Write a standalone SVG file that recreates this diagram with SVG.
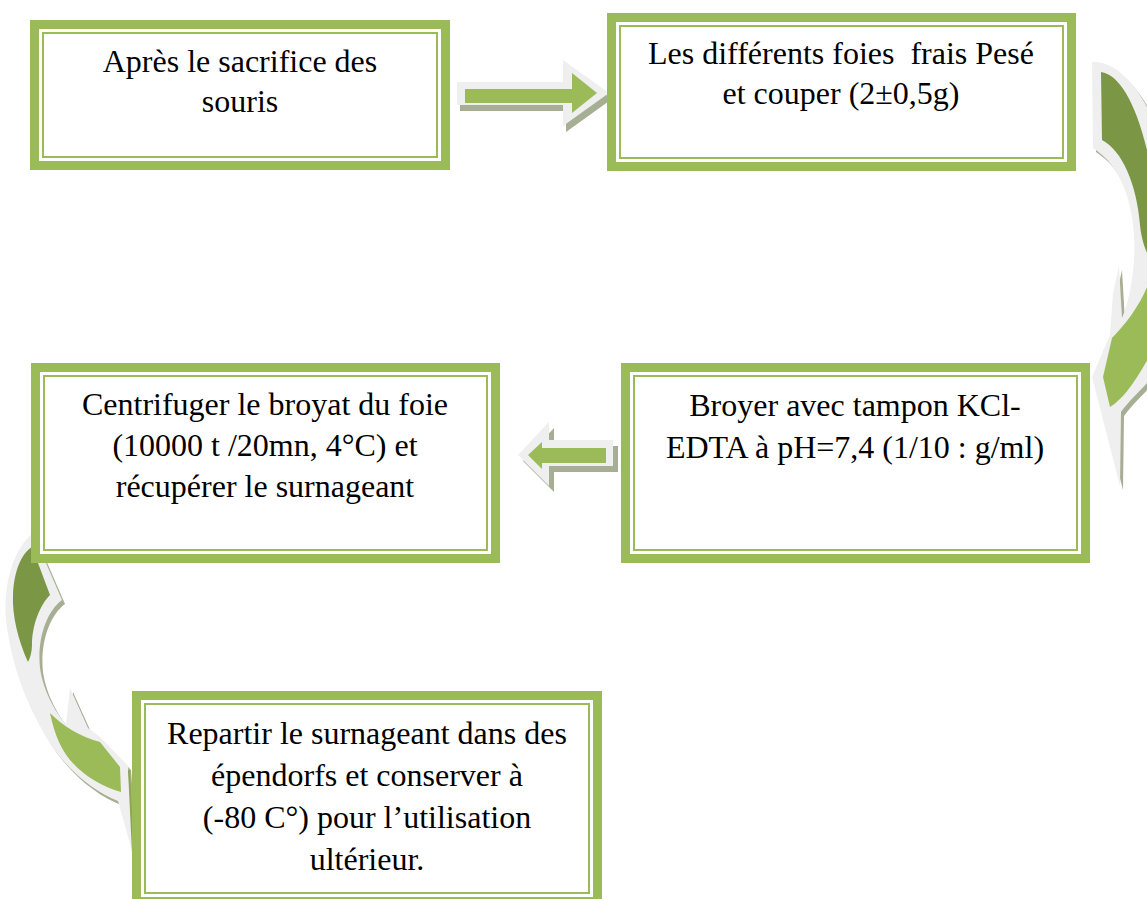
<svg xmlns="http://www.w3.org/2000/svg" width="1147" height="899" viewBox="0 0 1147 899">
<style>
.outer{fill:#9BBB59}
.gap{fill:#FFFFFF}
.inner{fill:none;stroke:#9BBB59;stroke-width:2}
.t{font-family:"Liberation Serif","Times New Roman",serif;font-size:32px;fill:#000;text-anchor:middle}
.sh{fill:#A6AF93}
.ol{fill:#EFEFEF}
.g{fill:#9BBB59}
.dg{fill:#7B9645}
</style>
<rect width="1147" height="899" fill="#FFFFFF"/>
<g id="connectors">
  <g id="arrow-1-2">
    <polygon class="sh" transform="translate(3,6)" points="457,82 563,82 563,60 609,93 563,126 563,105 457,105"/>
    <polygon class="ol" points="457,82 563,82 563,60 609,93 563,126 563,105 457,105"/>
    <polygon class="g" points="465,89 572,89 572,73 597,93 572,113 572,103 465,103"/>
  </g>
  <g id="arrow-4-3">
    <polygon class="sh" transform="translate(5,6)" points="518,455 549,422 549,440 613,440 613,466 549,466 549,486"/>
    <polygon class="ol" points="518,455 549,422 549,440 613,440 613,466 549,466 549,486"/>
    <polygon class="g" points="528,455 542,442 542,448 606,448 606,463 542,463 542,469"/>
  </g>
  <g id="arrow-2-4">
    <path class="sh" transform="translate(3,4)" d="M1092,62 C1125,60 1160,110 1168,180 L1168,370 L1147,383 C1138,393 1128,402 1121,412 L1120,486 L1092,377 L1110,335 L1113,293 L1119,266 L1122,318 C1130,300 1136,265 1134,235 C1132,200 1120,165 1093,148 Z"/>
    <path class="ol" d="M1092,62 C1125,60 1160,110 1168,180 L1168,370 L1147,383 C1138,393 1128,402 1121,412 L1120,486 L1092,377 L1110,335 L1113,293 L1119,266 L1122,318 C1130,300 1136,265 1134,235 C1132,200 1120,165 1093,148 Z"/>
    <path class="dg" d="M1101,72 C1118,74 1135,100 1147,150 L1160,200 L1152,262 C1144,250 1141,235 1140,225 C1137,185 1122,150 1102,140 Z"/>
    <path class="g" d="M1158,272 L1147,287 C1140,305 1125,325 1112,338 L1103,377 L1110,407 C1125,398 1140,375 1158,340 Z"/>
  </g>
  <g id="arrow-3-5">
    <path class="sh" transform="translate(3,4)" d="M33,533 L62,600 C46,612 37,640 40,668 C43,690 55,712 66,724 L70,688 L88,728 L100,737 L128,766 L135,862 L118,801 C95,792 65,770 45,735 C28,705 12,670 6,620 C3,580 15,548 33,533 Z"/>
    <path class="ol" d="M33,533 L62,600 C46,612 37,640 40,668 C43,690 55,712 66,724 L70,688 L88,728 L100,737 L128,766 L135,862 L118,801 C95,792 65,770 45,735 C28,705 12,670 6,620 C3,580 15,548 33,533 Z"/>
    <path class="dg" d="M32,547 L50,595 C40,605 32,625 32,645 C32,652 30,658 28,662 C18,640 12,615 13,595 C14,570 22,553 32,547 Z"/>
    <path class="g" d="M50,713 C62,725 80,737 100,742 L120,767 L121,792 C103,787 85,777 70,760 C62,750 55,737 50,713 Z"/>
    <line x1="129" y1="770" x2="133" y2="853" stroke="#8CA655" stroke-width="2"/>
  </g>
</g>
<g id="node-1">
  <rect class="outer" x="30" y="20" width="420" height="150"/>
  <rect class="gap" x="39" y="29" width="402" height="132"/>
  <rect class="inner" x="43" y="33" width="394" height="124"/>
  <text class="t" x="240" y="72">Après le sacrifice des</text>
  <text class="t" x="240" y="112">souris</text>
</g>
<g id="node-2">
  <rect class="outer" x="607" y="13" width="469" height="158"/>
  <rect class="gap" x="616" y="22" width="451" height="140"/>
  <rect class="inner" x="620" y="26" width="443" height="132"/>
  <text class="t" x="841" y="64" xml:space="preserve">Les différents foies  frais Pesé</text>
  <text class="t" x="841" y="104">et couper (2±0,5g)</text>
</g>
<g id="node-3">
  <rect class="outer" x="31" y="363" width="469" height="200"/>
  <rect class="gap" x="40" y="372" width="451" height="182"/>
  <rect class="inner" x="44" y="376" width="443" height="174"/>
  <text class="t" x="265" y="415">Centrifuger le broyat du foie</text>
  <text class="t" x="265" y="456">(10000 t /20mn, 4°C) et</text>
  <text class="t" x="265" y="497">récupérer le surnageant</text>
</g>
<g id="node-4">
  <rect class="outer" x="621" y="363" width="469" height="200"/>
  <rect class="gap" x="630" y="372" width="451" height="182"/>
  <rect class="inner" x="634" y="376" width="443" height="174"/>
  <text class="t" x="855" y="416">Broyer avec tampon KCl-</text>
  <text class="t" x="855" y="458">EDTA à pH=7,4 (1/10 : g/ml)</text>
</g>
<g id="node-5">
  <rect class="outer" x="132" y="691" width="470" height="215"/>
  <rect class="gap" x="141" y="700" width="452" height="197"/>
  <rect class="inner" x="145" y="704" width="444" height="189"/>
  <text class="t" x="367" y="744">Repartir le surnageant dans des</text>
  <text class="t" x="367" y="786">épendorfs et conserver à</text>
  <text class="t" x="367" y="828">(-80 C°) pour l’utilisation</text>
  <text class="t" x="367" y="870">ultérieur.</text>
</g>
</svg>
